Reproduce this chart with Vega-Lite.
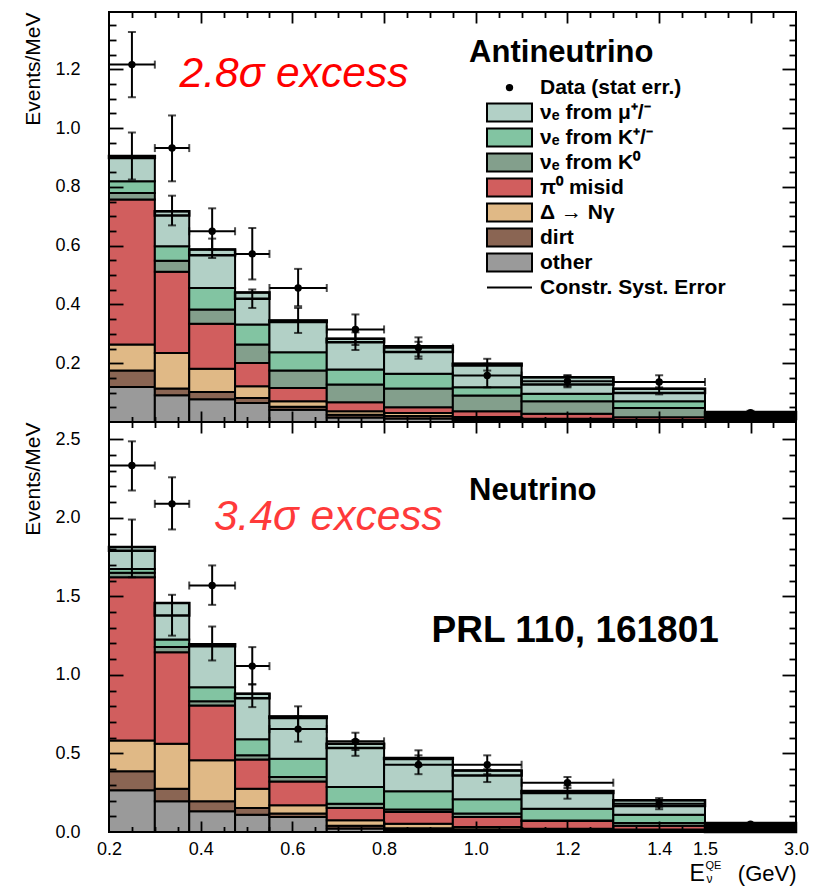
{
"$schema": "https://vega.github.io/schema/vega-lite/v6.json",
"padding": {"left": 21, "top": 10, "right": 0, "bottom": 0},
"background": "white",
"bounds": "flush",
"config": {
 "view": {"stroke": "black", "strokeWidth": 2},
 "axis": {"labelFont": "Liberation Sans", "labelFontSize": 18, "labelColor": "black", "titleFont": "Liberation Sans", "titleColor": "black", "titleFontWeight": "normal", "tickColor": "black", "tickWidth": 1.8, "domain": false, "grid": false, "labelOverlap": false, "labelFlush": false}
},
"datasets": {
 "comps": [
  {"key": "o", "c": "other", "k": 1},
  {"key": "dr", "c": "dirt", "k": 2},
  {"key": "g", "c": "Δ → Nγ", "k": 3},
  {"key": "p", "c": "π⁰ misid", "k": 4},
  {"key": "k0", "c": "νₑ from K⁰", "k": 5},
  {"key": "kc", "c": "νₑ from K⁺/⁻", "k": 6},
  {"key": "m", "c": "νₑ from μ⁺/⁻", "k": 7}
 ],
 "anti": [
  {"x0": 0.2, "x1": 0.3, "xc": 0.25, "T": 0.905, "C": 0.898, "mlo": 0.825, "mhi": 0.985, "d": 1.216, "dlo": 1.105, "dhi": 1.327, "o": 0.119, "dr": 0.056, "g": 0.089, "p": 0.493, "k0": 0.022, "kc": 0.040, "m": 0.086},
  {"x0": 0.3, "x1": 0.375, "xc": 0.3375, "T": 0.717, "C": 0.703, "mlo": 0.669, "mhi": 0.770, "d": 0.932, "dlo": 0.819, "dhi": 1.043, "o": 0.091, "dr": 0.023, "g": 0.121, "p": 0.276, "k0": 0.038, "kc": 0.049, "m": 0.119},
  {"x0": 0.375, "x1": 0.475, "xc": 0.425, "T": 0.587, "C": 0.567, "mlo": 0.558, "mhi": 0.624, "d": 0.649, "dlo": 0.587, "dhi": 0.727, "o": 0.077, "dr": 0.025, "g": 0.079, "p": 0.153, "k0": 0.049, "kc": 0.073, "m": 0.131},
  {"x0": 0.475, "x1": 0.55, "xc": 0.5125, "T": 0.441, "C": 0.419, "mlo": 0.388, "mhi": 0.451, "d": 0.572, "dlo": 0.485, "dhi": 0.660, "o": 0.065, "dr": 0.017, "g": 0.040, "p": 0.079, "k0": 0.063, "kc": 0.068, "m": 0.109},
  {"x0": 0.55, "x1": 0.675, "xc": 0.6125, "T": 0.345, "C": 0.340, "mlo": 0.303, "mhi": 0.388, "d": 0.456, "dlo": 0.394, "dhi": 0.521, "o": 0.042, "dr": 0.010, "g": 0.019, "p": 0.045, "k0": 0.059, "kc": 0.062, "m": 0.108},
  {"x0": 0.675, "x1": 0.8, "xc": 0.7375, "T": 0.283, "C": 0.271, "mlo": 0.245, "mhi": 0.305, "d": 0.315, "dlo": 0.262, "dhi": 0.366, "o": 0.015, "dr": 0.010, "g": 0.012, "p": 0.030, "k0": 0.061, "kc": 0.051, "m": 0.104},
  {"x0": 0.8, "x1": 0.95, "xc": 0.875, "T": 0.258, "C": 0.238, "mlo": 0.223, "mhi": 0.273, "d": 0.253, "dlo": 0.215, "dhi": 0.288, "o": 0.012, "dr": 0.008, "g": 0.011, "p": 0.019, "k0": 0.064, "kc": 0.050, "m": 0.094},
  {"x0": 0.95, "x1": 1.1, "xc": 1.025, "T": 0.198, "C": 0.192, "mlo": 0.175, "mhi": 0.215, "d": 0.158, "dlo": 0.118, "dhi": 0.198, "o": 0.006, "dr": 0.006, "g": 0.005, "p": 0.020, "k0": 0.053, "kc": 0.028, "m": 0.080},
  {"x0": 1.1, "x1": 1.3, "xc": 1.2, "T": 0.152, "C": 0.128, "mlo": 0.122, "mhi": 0.158, "d": 0.139, "dlo": 0.118, "dhi": 0.159, "o": 0.004, "dr": 0.004, "g": 0.003, "p": 0.017, "k0": 0.043, "kc": 0.025, "m": 0.056},
  {"x0": 1.3, "x1": 1.5, "xc": 1.4, "T": 0.113, "C": 0.099, "mlo": 0.094, "mhi": 0.118, "d": 0.136, "dlo": 0.113, "dhi": 0.159, "o": 0.003, "dr": 0.002, "g": 0.002, "p": 0.009, "k0": 0.032, "kc": 0.023, "m": 0.042},
  {"x0": 1.5, "x1": 3.0, "xc": 2.25, "T": 0.034, "C": 0.010, "mlo": null, "mhi": null, "d": 0.032, "dlo": 0.026, "dhi": 0.038, "o": 0.002, "dr": 0.001, "g": 0.001, "p": 0.002, "k0": 0.006, "kc": 0.004, "m": 0.018}
 ],
 "nu": [
  {"x0": 0.2, "x1": 0.3, "xc": 0.25, "T": 1.815, "C": 1.790, "mlo": 1.622, "mhi": 1.989, "d": 2.333, "dlo": 2.174, "dhi": 2.487, "o": 0.265, "dr": 0.121, "g": 0.197, "p": 1.039, "k0": 0.028, "kc": 0.025, "m": 0.140},
  {"x0": 0.3, "x1": 0.375, "xc": 0.3375, "T": 1.457, "C": 1.378, "mlo": 1.25, "mhi": 1.51, "d": 2.089, "dlo": 1.926, "dhi": 2.258, "o": 0.195, "dr": 0.081, "g": 0.286, "p": 0.583, "k0": 0.032, "kc": 0.049, "m": 0.231},
  {"x0": 0.375, "x1": 0.475, "xc": 0.425, "T": 1.195, "C": 1.183, "mlo": 1.092, "mhi": 1.308, "d": 1.569, "dlo": 1.446, "dhi": 1.697, "o": 0.132, "dr": 0.063, "g": 0.261, "p": 0.350, "k0": 0.027, "kc": 0.089, "m": 0.273},
  {"x0": 0.475, "x1": 0.55, "xc": 0.5125, "T": 0.880, "C": 0.852, "mlo": 0.795, "mhi": 0.94, "d": 1.056, "dlo": 0.94, "dhi": 1.177, "o": 0.110, "dr": 0.043, "g": 0.123, "p": 0.186, "k0": 0.026, "kc": 0.102, "m": 0.290},
  {"x0": 0.55, "x1": 0.675, "xc": 0.6125, "T": 0.735, "C": 0.725, "mlo": 0.655, "mhi": 0.80, "d": 0.655, "dlo": 0.575, "dhi": 0.735, "o": 0.095, "dr": 0.022, "g": 0.053, "p": 0.152, "k0": 0.028, "kc": 0.116, "m": 0.269},
  {"x0": 0.675, "x1": 0.8, "xc": 0.7375, "T": 0.562, "C": 0.535, "mlo": 0.485, "mhi": 0.585, "d": 0.577, "dlo": 0.522, "dhi": 0.632, "o": 0.022, "dr": 0.018, "g": 0.035, "p": 0.077, "k0": 0.028, "kc": 0.106, "m": 0.276},
  {"x0": 0.8, "x1": 0.95, "xc": 0.875, "T": 0.471, "C": 0.465, "mlo": 0.42, "mhi": 0.52, "d": 0.428, "dlo": 0.368, "dhi": 0.488, "o": 0.012, "dr": 0.012, "g": 0.029, "p": 0.074, "k0": 0.017, "kc": 0.115, "m": 0.212},
  {"x0": 0.95, "x1": 1.1, "xc": 1.025, "T": 0.392, "C": 0.360, "mlo": 0.318, "mhi": 0.40, "d": 0.428, "dlo": 0.368, "dhi": 0.488, "o": 0.010, "dr": 0.008, "g": 0.014, "p": 0.063, "k0": 0.022, "kc": 0.091, "m": 0.184},
  {"x0": 1.1, "x1": 1.3, "xc": 1.2, "T": 0.261, "C": 0.248, "mlo": 0.212, "mhi": 0.296, "d": 0.314, "dlo": 0.28, "dhi": 0.35, "o": 0.008, "dr": 0.006, "g": 0.007, "p": 0.049, "k0": 0.004, "kc": 0.074, "m": 0.113},
  {"x0": 1.3, "x1": 1.5, "xc": 1.4, "T": 0.202, "C": 0.165, "mlo": 0.145, "mhi": 0.216, "d": 0.18, "dlo": 0.16, "dhi": 0.20, "o": 0.006, "dr": 0.005, "g": 0.005, "p": 0.024, "k0": 0.018, "kc": 0.052, "m": 0.092},
  {"x0": 1.5, "x1": 3.0, "xc": 2.25, "T": 0.058, "C": 0.0, "mlo": null, "mhi": null, "d": 0.05, "dlo": 0.042, "dhi": 0.058, "o": 0.003, "dr": 0.002, "g": 0.002, "p": 0.003, "k0": 0.003, "kc": 0.007, "m": 0.038}
 ]
},
"spacing": 0,
"resolve": {"scale": {"x": "independent", "y": "independent", "fill": "independent"}, "legend": {"fill": "independent"}},
"vconcat": [
 {
  "width": 687, "height": 410,
  "data": {"name": "anti"},
  "resolve": {"axis": {"x": "independent", "y": "independent"}},
  "layer": [
   {
    "transform": [
     {"fold": ["o", "dr", "g", "p", "k0", "kc", "m"], "as": ["key", "v"]},
     {"lookup": "key", "from": {"data": {"name": "comps"}, "key": "key", "fields": ["c", "k"]}},
     {"stack": "v", "groupby": ["x0"], "sort": [{"field": "k", "order": "ascending"}], "as": ["y0", "y1"]}
    ],
    "mark": {"type": "rect", "stroke": "black", "strokeWidth": 2},
    "encoding": {
     "x": {"field": "x0", "type": "quantitative", "scale": {"domain": [0.2, 1.5, 3.0], "range": [0, 596, 687], "nice": false, "zero": false}, "axis": null},
     "x2": {"field": "x1"},
     "y": {"field": "y0", "type": "quantitative", "scale": {"domain": [0, 1.395], "nice": false, "zero": false}, "axis": null},
     "y2": {"field": "y1"},
     "fill": {"field": "c", "type": "nominal",
      "scale": {"domain": ["Data (stat err.)", "νₑ from μ⁺/⁻", "νₑ from K⁺/⁻", "νₑ from K⁰", "π⁰ misid", "Δ → Nγ", "dirt", "other", "Constr. Syst. Error"],
                "range": ["black", "#B2D0C6", "#82C4A2", "#839F8C", "#D15E5E", "#E0B986", "#8A6553", "#9A9A9A", "black"]},
      "legend": {"orient": "none", "legendX": 377, "legendY": 63.5, "title": null, "symbolSize": 2025, "symbolStrokeColor": "black", "symbolStrokeWidth": 2,
        "labelFont": "Liberation Sans", "labelFontSize": 21, "labelFontWeight": "bold", "labelColor": "black", "labelLimit": 0, "labelOffset": 7,
        "clipHeight": 24.2, "rowPadding": 0, "padding": 0,
        "encode": {"symbols": {"update": {
          "shape": {"signal": "datum.value === 'Data (stat err.)' ? 'M0,-0.12A0.12,0.12 0 1,1 0,0.12A0.12,0.12 0 1,1 0,-0.12Z' : (datum.value === 'Constr. Syst. Error' ? 'M-1,0H1' : 'M-1,-0.4H1V0.4H-1Z')"},
          "stroke": {"value": "black"}, "strokeWidth": {"value": 2}, "opacity": {"value": 1}}}}}
     },
     "order": {"field": "k", "type": "quantitative"}
    }
   },
   {
    "mark": {"type": "rect", "fillOpacity": 0, "stroke": "black", "strokeWidth": 2.5},
    "encoding": {
     "x": {"field": "x0", "type": "quantitative", "scale": {"domain": [0.2, 1.5, 3.0], "range": [0, 596, 687], "nice": false, "zero": false}, "axis": null},
     "x2": {"field": "x1"},
     "y": {"field": "C", "type": "quantitative", "scale": {"domain": [0, 1.395], "nice": false, "zero": false}, "axis": null},
     "y2": {"field": "T"}
    }
   },
   {
    "transform": [{"filter": "datum.x0 >= 1.5"}],
    "mark": {"type": "rect", "fill": "black", "stroke": "black", "strokeWidth": 2},
    "encoding": {
     "x": {"field": "x0", "type": "quantitative", "scale": {"domain": [0.2, 1.5, 3.0], "range": [0, 596, 687], "nice": false, "zero": false}, "axis": null},
     "x2": {"field": "x1"},
     "y": {"field": "C", "type": "quantitative", "scale": {"domain": [0, 1.395], "nice": false, "zero": false}, "axis": null},
     "y2": {"field": "T"}
    }
   },
   {
    "transform": [{"filter": "isValid(datum.mlo)"}],
    "mark": {"type": "errorbar", "color": "black", "ticks": {"size": 8, "thickness": 2}, "rule": {"strokeWidth": 2}},
    "encoding": {
     "x": {"field": "xc", "type": "quantitative", "scale": {"domain": [0.2, 1.5, 3.0], "range": [0, 596, 687], "nice": false, "zero": false}, "axis": null},
     "y": {"field": "mlo", "type": "quantitative", "scale": {"domain": [0, 1.395], "nice": false, "zero": false}, "axis": null},
     "y2": {"field": "mhi"}
    }
   },
   {
    "mark": {"type": "errorbar", "color": "black", "ticks": {"size": 8, "thickness": 2}, "rule": {"strokeWidth": 2}},
    "encoding": {
     "x": {"field": "xc", "type": "quantitative", "scale": {"domain": [0.2, 1.5, 3.0], "range": [0, 596, 687], "nice": false, "zero": false}, "axis": null},
     "y": {"field": "dlo", "type": "quantitative", "scale": {"domain": [0, 1.395], "nice": false, "zero": false}, "axis": null},
     "y2": {"field": "dhi"}
    }
   },
   {
    "mark": {"type": "errorbar", "color": "black", "ticks": {"size": 8, "thickness": 2}, "rule": {"strokeWidth": 2}},
    "encoding": {
     "y": {"field": "d", "type": "quantitative", "scale": {"domain": [0, 1.395], "nice": false, "zero": false}, "axis": null},
     "x": {"field": "x0", "type": "quantitative", "scale": {"domain": [0.2, 1.5, 3.0], "range": [0, 596, 687], "nice": false, "zero": false}, "axis": null},
     "x2": {"field": "x1"}
    }
   },
   {
    "mark": {"type": "point", "filled": true, "color": "black", "size": 55, "opacity": 1},
    "encoding": {
     "x": {"field": "xc", "type": "quantitative", "scale": {"domain": [0.2, 1.5, 3.0], "range": [0, 596, 687], "nice": false, "zero": false}, "axis": null},
     "y": {"field": "d", "type": "quantitative", "scale": {"domain": [0, 1.395], "nice": false, "zero": false}, "axis": null}
    }
   },
   {
    "data": {"values": [{}]},
    "mark": {"type": "text", "text": "2.8σ excess", "font": "Liberation Sans", "fontSize": 42.5, "fontStyle": "italic", "color": "#FF0000", "align": "left", "baseline": "alphabetic"},
    "encoding": {
     "x": {"datum": 0.354, "type": "quantitative", "scale": {"domain": [0.2, 1.5, 3.0], "range": [0, 596, 687], "nice": false, "zero": false}, "axis": null},
     "y": {"datum": 1.14, "type": "quantitative", "scale": {"domain": [0, 1.395], "nice": false, "zero": false}, "axis": null}
    }
   },
   {
    "data": {"values": [{}]},
    "mark": {"type": "text", "text": "Antineutrino", "font": "Liberation Sans", "fontSize": 31, "fontWeight": "bold", "color": "black", "align": "left", "baseline": "alphabetic"},
    "encoding": {
     "x": {"datum": 0.9855, "type": "quantitative", "scale": {"domain": [0.2, 1.5, 3.0], "range": [0, 596, 687], "nice": false, "zero": false}, "axis": null},
     "y": {"datum": 1.225, "type": "quantitative", "scale": {"domain": [0, 1.395], "nice": false, "zero": false}, "axis": null}
    }
   },
   {
    "mark": {"type": "point", "opacity": 0},
    "encoding": {
     "x": {"field": "xc", "type": "quantitative", "scale": {"domain": [0.2, 1.5, 3.0], "range": [0, 596, 687], "nice": false, "zero": false}, "axis": null},
     "y": {"field": "T", "type": "quantitative", "scale": {"domain": [0, 1.395], "nice": false, "zero": false},
       "axis": {"orient": "left", "values": [0.2, 0.4, 0.6, 0.8, 1.0, 1.2], "format": ".1f", "ticks": false, "labelPadding": 29, "title": "Events/MeV", "titleAnchor": "end", "titleFontSize": 21, "titlePadding": 11}}
    }
   },
   {
    "mark": {"type": "point", "opacity": 0},
    "encoding": {
     "x": {"field": "xc", "type": "quantitative", "scale": {"domain": [0.2, 1.5, 3.0], "range": [0, 596, 687], "nice": false, "zero": false},
       "axis": {"orient": "bottom", "values": [0.4, 0.6, 0.8, 1.0, 1.2, 1.4, 2.25], "tickSize": 11, "offset": -11, "labels": false, "title": null, "zindex": 1}},
     "y": {"field": "T", "type": "quantitative", "scale": {"domain": [0, 1.395], "nice": false, "zero": false},
       "axis": {"orient": "left", "values": [0.2, 0.4, 0.6, 0.8, 1.0, 1.2], "tickSize": 14, "offset": -14, "labels": false, "title": null, "zindex": 1}}
    }
   },
   {
    "mark": {"type": "point", "opacity": 0},
    "encoding": {
     "x": {"field": "xc", "type": "quantitative", "scale": {"domain": [0.2, 1.5, 3.0], "range": [0, 596, 687], "nice": false, "zero": false},
       "axis": {"orient": "bottom", "values": [0.25, 0.3, 0.35, 0.45, 0.5, 0.55, 0.65, 0.7, 0.75, 0.85, 0.9, 0.95, 1.05, 1.1, 1.15, 1.25, 1.3, 1.35, 1.45, 1.5, 1.875, 2.625], "tickSize": 5.5, "offset": -5.5, "labels": false, "title": null, "zindex": 1}},
     "y": {"field": "T", "type": "quantitative", "scale": {"domain": [0, 1.395], "nice": false, "zero": false},
       "axis": {"orient": "left", "values": [0.05, 0.1, 0.15, 0.25, 0.3, 0.35, 0.45, 0.5, 0.55, 0.65, 0.7, 0.75, 0.85, 0.9, 0.95, 1.05, 1.1, 1.15, 1.25, 1.3, 1.35], "tickSize": 7, "offset": -7, "labels": false, "title": null, "zindex": 1}}
    }
   },
   {
    "mark": {"type": "point", "opacity": 0},
    "encoding": {
     "x": {"field": "xc", "type": "quantitative", "scale": {"domain": [0.2, 1.5, 3.0], "range": [0, 596, 687], "nice": false, "zero": false},
       "axis": {"orient": "top", "values": [0.4, 0.6, 0.8, 1.0, 1.2, 1.4, 2.25], "tickSize": 11, "offset": -11, "labels": false, "title": null, "zindex": 1}},
     "y": {"field": "T", "type": "quantitative", "scale": {"domain": [0, 1.395], "nice": false, "zero": false},
       "axis": {"orient": "right", "values": [0.2, 0.4, 0.6, 0.8, 1.0, 1.2], "tickSize": 14, "offset": -14, "labels": false, "title": null, "zindex": 1}}
    }
   },
   {
    "mark": {"type": "point", "opacity": 0},
    "encoding": {
     "x": {"field": "xc", "type": "quantitative", "scale": {"domain": [0.2, 1.5, 3.0], "range": [0, 596, 687], "nice": false, "zero": false},
       "axis": {"orient": "top", "values": [0.25, 0.3, 0.35, 0.45, 0.5, 0.55, 0.65, 0.7, 0.75, 0.85, 0.9, 0.95, 1.05, 1.1, 1.15, 1.25, 1.3, 1.35, 1.45, 1.5, 1.875, 2.625], "tickSize": 5.5, "offset": -5.5, "labels": false, "title": null, "zindex": 1}},
     "y": {"field": "T", "type": "quantitative", "scale": {"domain": [0, 1.395], "nice": false, "zero": false},
       "axis": {"orient": "right", "values": [0.05, 0.1, 0.15, 0.25, 0.3, 0.35, 0.45, 0.5, 0.55, 0.65, 0.7, 0.75, 0.85, 0.9, 0.95, 1.05, 1.1, 1.15, 1.25, 1.3, 1.35], "tickSize": 7, "offset": -7, "labels": false, "title": null, "zindex": 1}}
    }
   }
  ]
 },
 {
  "width": 687, "height": 410,
  "data": {"name": "nu"},
  "resolve": {"axis": {"x": "independent", "y": "independent"}},
  "layer": [
   {
    "transform": [
     {"fold": ["o", "dr", "g", "p", "k0", "kc", "m"], "as": ["key", "v"]},
     {"lookup": "key", "from": {"data": {"name": "comps"}, "key": "key", "fields": ["c", "k"]}},
     {"stack": "v", "groupby": ["x0"], "sort": [{"field": "k", "order": "ascending"}], "as": ["y0", "y1"]}
    ],
    "mark": {"type": "rect", "stroke": "black", "strokeWidth": 2},
    "encoding": {
     "x": {"field": "x0", "type": "quantitative", "scale": {"domain": [0.2, 1.5, 3.0], "range": [0, 596, 687], "nice": false, "zero": false}, "axis": null},
     "x2": {"field": "x1"},
     "y": {"field": "y0", "type": "quantitative", "scale": {"domain": [0, 2.61], "nice": false, "zero": false}, "axis": null},
     "y2": {"field": "y1"},
     "fill": {"field": "c", "type": "nominal",
      "scale": {"domain": ["Data (stat err.)", "νₑ from μ⁺/⁻", "νₑ from K⁺/⁻", "νₑ from K⁰", "π⁰ misid", "Δ → Nγ", "dirt", "other", "Constr. Syst. Error"],
                "range": ["black", "#B2D0C6", "#82C4A2", "#839F8C", "#D15E5E", "#E0B986", "#8A6553", "#9A9A9A", "black"]},
      "legend": null},
     "order": {"field": "k", "type": "quantitative"}
    }
   },
   {
    "mark": {"type": "rect", "fillOpacity": 0, "stroke": "black", "strokeWidth": 2.5},
    "encoding": {
     "x": {"field": "x0", "type": "quantitative", "scale": {"domain": [0.2, 1.5, 3.0], "range": [0, 596, 687], "nice": false, "zero": false}, "axis": null},
     "x2": {"field": "x1"},
     "y": {"field": "C", "type": "quantitative", "scale": {"domain": [0, 2.61], "nice": false, "zero": false}, "axis": null},
     "y2": {"field": "T"}
    }
   },
   {
    "transform": [{"filter": "datum.x0 >= 1.5"}],
    "mark": {"type": "rect", "fill": "black", "stroke": "black", "strokeWidth": 2},
    "encoding": {
     "x": {"field": "x0", "type": "quantitative", "scale": {"domain": [0.2, 1.5, 3.0], "range": [0, 596, 687], "nice": false, "zero": false}, "axis": null},
     "x2": {"field": "x1"},
     "y": {"field": "C", "type": "quantitative", "scale": {"domain": [0, 2.61], "nice": false, "zero": false}, "axis": null},
     "y2": {"field": "T"}
    }
   },
   {
    "transform": [{"filter": "isValid(datum.mlo)"}],
    "mark": {"type": "errorbar", "color": "black", "ticks": {"size": 8, "thickness": 2}, "rule": {"strokeWidth": 2}},
    "encoding": {
     "x": {"field": "xc", "type": "quantitative", "scale": {"domain": [0.2, 1.5, 3.0], "range": [0, 596, 687], "nice": false, "zero": false}, "axis": null},
     "y": {"field": "mlo", "type": "quantitative", "scale": {"domain": [0, 2.61], "nice": false, "zero": false}, "axis": null},
     "y2": {"field": "mhi"}
    }
   },
   {
    "mark": {"type": "errorbar", "color": "black", "ticks": {"size": 8, "thickness": 2}, "rule": {"strokeWidth": 2}},
    "encoding": {
     "x": {"field": "xc", "type": "quantitative", "scale": {"domain": [0.2, 1.5, 3.0], "range": [0, 596, 687], "nice": false, "zero": false}, "axis": null},
     "y": {"field": "dlo", "type": "quantitative", "scale": {"domain": [0, 2.61], "nice": false, "zero": false}, "axis": null},
     "y2": {"field": "dhi"}
    }
   },
   {
    "mark": {"type": "errorbar", "color": "black", "ticks": {"size": 8, "thickness": 2}, "rule": {"strokeWidth": 2}},
    "encoding": {
     "y": {"field": "d", "type": "quantitative", "scale": {"domain": [0, 2.61], "nice": false, "zero": false}, "axis": null},
     "x": {"field": "x0", "type": "quantitative", "scale": {"domain": [0.2, 1.5, 3.0], "range": [0, 596, 687], "nice": false, "zero": false}, "axis": null},
     "x2": {"field": "x1"}
    }
   },
   {
    "mark": {"type": "point", "filled": true, "color": "black", "size": 55, "opacity": 1},
    "encoding": {
     "x": {"field": "xc", "type": "quantitative", "scale": {"domain": [0.2, 1.5, 3.0], "range": [0, 596, 687], "nice": false, "zero": false}, "axis": null},
     "y": {"field": "d", "type": "quantitative", "scale": {"domain": [0, 2.61], "nice": false, "zero": false}, "axis": null}
    }
   },
   {
    "data": {"values": [{}]},
    "mark": {"type": "text", "text": "3.4σ excess", "font": "Liberation Sans", "fontSize": 42.5, "fontStyle": "italic", "color": "#FF3A3A", "align": "left", "baseline": "alphabetic"},
    "encoding": {
     "x": {"datum": 0.429, "type": "quantitative", "scale": {"domain": [0.2, 1.5, 3.0], "range": [0, 596, 687], "nice": false, "zero": false}, "axis": null},
     "y": {"datum": 1.925, "type": "quantitative", "scale": {"domain": [0, 2.61], "nice": false, "zero": false}, "axis": null}
    }
   },
   {
    "data": {"values": [{}]},
    "mark": {"type": "text", "text": "Neutrino", "font": "Liberation Sans", "fontSize": 31, "fontWeight": "bold", "color": "black", "align": "left", "baseline": "alphabetic"},
    "encoding": {
     "x": {"datum": 0.9855, "type": "quantitative", "scale": {"domain": [0.2, 1.5, 3.0], "range": [0, 596, 687], "nice": false, "zero": false}, "axis": null},
     "y": {"datum": 2.115, "type": "quantitative", "scale": {"domain": [0, 2.61], "nice": false, "zero": false}, "axis": null}
    }
   },
   {
    "data": {"values": [{}]},
    "mark": {"type": "text", "text": "PRL 110, 161801", "font": "Liberation Sans", "fontSize": 37, "fontWeight": "bold", "color": "black", "align": "left", "baseline": "alphabetic"},
    "encoding": {
     "x": {"datum": 0.9035, "type": "quantitative", "scale": {"domain": [0.2, 1.5, 3.0], "range": [0, 596, 687], "nice": false, "zero": false}, "axis": null},
     "y": {"datum": 1.209, "type": "quantitative", "scale": {"domain": [0, 2.61], "nice": false, "zero": false}, "axis": null}
    }
   },
   {
    "mark": {"type": "point", "opacity": 0},
    "encoding": {
     "x": {"field": "xc", "type": "quantitative", "scale": {"domain": [0.2, 1.5, 3.0], "range": [0, 596, 687], "nice": false, "zero": false},
       "axis": {"orient": "bottom", "values": [0.2, 0.4, 0.6, 0.8, 1.0, 1.2, 1.4, 1.5, 3.0], "format": ".1f", "ticks": false, "labelPadding": 8, "title": "(GeV)", "titleX": 687, "titleY": 48, "titleAlign": "right", "titleBaseline": "alphabetic", "titleAngle": 0, "titleFontSize": 22}},
     "y": {"field": "T", "type": "quantitative", "scale": {"domain": [0, 2.61], "nice": false, "zero": false},
       "axis": {"orient": "left", "values": [0, 0.5, 1.0, 1.5, 2.0, 2.5], "format": ".1f", "ticks": false, "labelPadding": 29, "title": "Events/MeV", "titleAnchor": "end", "titleFontSize": 21, "titlePadding": 11}}
    }
   },
   {
    "mark": {"type": "point", "opacity": 0},
    "encoding": {
     "x": {"field": "xc", "type": "quantitative", "scale": {"domain": [0.2, 1.5, 3.0], "range": [0, 596, 687], "nice": false, "zero": false},
       "axis": {"orient": "bottom", "values": [0.4, 0.6, 0.8, 1.0, 1.2, 1.4, 2.25], "tickSize": 11, "offset": -11, "labels": false, "zindex": 1, "title": "E", "titleX": 580, "titleY": 59, "titleAlign": "left", "titleBaseline": "alphabetic", "titleAngle": 0, "titleFontSize": 23}},
     "y": {"field": "T", "type": "quantitative", "scale": {"domain": [0, 2.61], "nice": false, "zero": false},
       "axis": {"orient": "left", "values": [0.5, 1.0, 1.5, 2.0, 2.5], "tickSize": 14, "offset": -14, "labels": false, "title": null, "zindex": 1}}
    }
   },
   {
    "mark": {"type": "point", "opacity": 0},
    "encoding": {
     "x": {"field": "xc", "type": "quantitative", "scale": {"domain": [0.2, 1.5, 3.0], "range": [0, 596, 687], "nice": false, "zero": false},
       "axis": {"orient": "bottom", "values": [0.25, 0.3, 0.35, 0.45, 0.5, 0.55, 0.65, 0.7, 0.75, 0.85, 0.9, 0.95, 1.05, 1.1, 1.15, 1.25, 1.3, 1.35, 1.45, 1.5, 1.875, 2.625], "tickSize": 5.5, "offset": -5.5, "labels": false, "zindex": 1, "title": "QE", "titleX": 596, "titleY": 42, "titleAlign": "left", "titleBaseline": "alphabetic", "titleAngle": 0, "titleFontSize": 11}},
     "y": {"field": "T", "type": "quantitative", "scale": {"domain": [0, 2.61], "nice": false, "zero": false},
       "axis": {"orient": "left", "values": [0.1, 0.2, 0.3, 0.4, 0.6, 0.7, 0.8, 0.9, 1.1, 1.2, 1.3, 1.4, 1.6, 1.7, 1.8, 1.9, 2.1, 2.2, 2.3, 2.4], "tickSize": 7, "offset": -7, "labels": false, "title": null, "zindex": 1}}
    }
   },
   {
    "mark": {"type": "point", "opacity": 0},
    "encoding": {
     "x": {"field": "xc", "type": "quantitative", "scale": {"domain": [0.2, 1.5, 3.0], "range": [0, 596, 687], "nice": false, "zero": false},
       "axis": {"orient": "top", "values": [0.4, 0.6, 0.8, 1.0, 1.2, 1.4, 2.25], "tickSize": 11, "offset": -11, "labels": false, "zindex": 1, "title": "ν", "titleX": 597, "titleY": 449, "titleAlign": "left", "titleBaseline": "alphabetic", "titleAngle": 0, "titleFontSize": 12}},
     "y": {"field": "T", "type": "quantitative", "scale": {"domain": [0, 2.61], "nice": false, "zero": false},
       "axis": {"orient": "right", "values": [0.5, 1.0, 1.5, 2.0, 2.5], "tickSize": 14, "offset": -14, "labels": false, "title": null, "zindex": 1}}
    }
   },
   {
    "mark": {"type": "point", "opacity": 0},
    "encoding": {
     "x": {"field": "xc", "type": "quantitative", "scale": {"domain": [0.2, 1.5, 3.0], "range": [0, 596, 687], "nice": false, "zero": false},
       "axis": {"orient": "top", "values": [0.25, 0.3, 0.35, 0.45, 0.5, 0.55, 0.65, 0.7, 0.75, 0.85, 0.9, 0.95, 1.05, 1.1, 1.15, 1.25, 1.3, 1.35, 1.45, 1.5, 1.875, 2.625], "tickSize": 5.5, "offset": -5.5, "labels": false, "title": null, "zindex": 1}},
     "y": {"field": "T", "type": "quantitative", "scale": {"domain": [0, 2.61], "nice": false, "zero": false},
       "axis": {"orient": "right", "values": [0.1, 0.2, 0.3, 0.4, 0.6, 0.7, 0.8, 0.9, 1.1, 1.2, 1.3, 1.4, 1.6, 1.7, 1.8, 1.9, 2.1, 2.2, 2.3, 2.4], "tickSize": 7, "offset": -7, "labels": false, "title": null, "zindex": 1}}
    }
   }
  ]
 }
]
}
